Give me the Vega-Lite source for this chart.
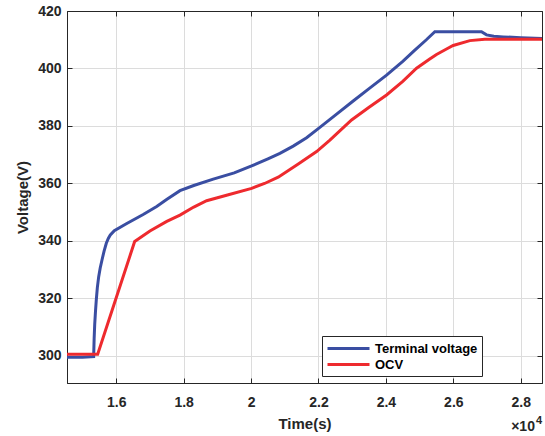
{
  "$schema": "https://vega.github.io/schema/vega-lite/v6.json",
  "width": 475,
  "height": 372,
  "autosize": {"type": "none"},
  "padding": {"left": 67, "top": 11, "right": 3, "bottom": 53},
  "background": "white",
  "config": {
    "font": "Liberation Sans",
    "view": {"stroke": "#262626", "strokeWidth": 1},
    "axis": {
      "domainColor": "#262626",
      "tickColor": "#262626",
      "tickSize": -5,
      "gridColor": "#dcdcdc",
      "gridWidth": 1,
      "labelFont": "Liberation Sans",
      "labelFontSize": 14,
      "labelFontWeight": "bold",
      "labelColor": "#262626",
      "titleFont": "Liberation Sans",
      "titleFontSize": 15,
      "titleFontWeight": "bold",
      "titleColor": "#262626"
    }
  },
  "datasets": {
    "curves": [
      {"t": 14540, "v": 299.6, "series": "Terminal voltage"},
      {"t": 15000, "v": 299.6, "series": "Terminal voltage"},
      {"t": 15331, "v": 299.8, "series": "Terminal voltage"},
      {"t": 15345, "v": 306.0, "series": "Terminal voltage"},
      {"t": 15362, "v": 311.0, "series": "Terminal voltage"},
      {"t": 15385, "v": 315.5, "series": "Terminal voltage"},
      {"t": 15409, "v": 319.5, "series": "Terminal voltage"},
      {"t": 15440, "v": 323.8, "series": "Terminal voltage"},
      {"t": 15480, "v": 327.6, "series": "Terminal voltage"},
      {"t": 15525, "v": 330.6, "series": "Terminal voltage"},
      {"t": 15578, "v": 333.4, "series": "Terminal voltage"},
      {"t": 15640, "v": 336.5, "series": "Terminal voltage"},
      {"t": 15706, "v": 339.2, "series": "Terminal voltage"},
      {"t": 15765, "v": 340.9, "series": "Terminal voltage"},
      {"t": 15825, "v": 342.1, "series": "Terminal voltage"},
      {"t": 15943, "v": 343.6, "series": "Terminal voltage"},
      {"t": 16300, "v": 346.0, "series": "Terminal voltage"},
      {"t": 16800, "v": 349.2, "series": "Terminal voltage"},
      {"t": 17200, "v": 352.0, "series": "Terminal voltage"},
      {"t": 17505, "v": 354.5, "series": "Terminal voltage"},
      {"t": 17891, "v": 357.5, "series": "Terminal voltage"},
      {"t": 18300, "v": 359.3, "series": "Terminal voltage"},
      {"t": 18878, "v": 361.5, "series": "Terminal voltage"},
      {"t": 19500, "v": 363.7, "series": "Terminal voltage"},
      {"t": 20016, "v": 366.1, "series": "Terminal voltage"},
      {"t": 20500, "v": 368.6, "series": "Terminal voltage"},
      {"t": 20855, "v": 370.5, "series": "Terminal voltage"},
      {"t": 21250, "v": 373.0, "series": "Terminal voltage"},
      {"t": 21647, "v": 375.9, "series": "Terminal voltage"},
      {"t": 22041, "v": 379.5, "series": "Terminal voltage"},
      {"t": 22500, "v": 383.8, "series": "Terminal voltage"},
      {"t": 23029, "v": 388.7, "series": "Terminal voltage"},
      {"t": 23500, "v": 393.0, "series": "Terminal voltage"},
      {"t": 24019, "v": 397.7, "series": "Terminal voltage"},
      {"t": 24500, "v": 402.5, "series": "Terminal voltage"},
      {"t": 24858, "v": 406.4, "series": "Terminal voltage"},
      {"t": 25200, "v": 410.0, "series": "Terminal voltage"},
      {"t": 25451, "v": 412.8, "series": "Terminal voltage"},
      {"t": 26000, "v": 412.8, "series": "Terminal voltage"},
      {"t": 26500, "v": 412.8, "series": "Terminal voltage"},
      {"t": 26835, "v": 412.8, "series": "Terminal voltage"},
      {"t": 26984, "v": 411.7, "series": "Terminal voltage"},
      {"t": 27200, "v": 411.2, "series": "Terminal voltage"},
      {"t": 27476, "v": 411.0, "series": "Terminal voltage"},
      {"t": 28000, "v": 410.7, "series": "Terminal voltage"},
      {"t": 28630, "v": 410.4, "series": "Terminal voltage"},
      {"t": 14540, "v": 300.6, "series": "OCV"},
      {"t": 15450, "v": 300.6, "series": "OCV"},
      {"t": 16547, "v": 339.8, "series": "OCV"},
      {"t": 17000, "v": 343.5, "series": "OCV"},
      {"t": 17500, "v": 346.8, "series": "OCV"},
      {"t": 17891, "v": 349.0, "series": "OCV"},
      {"t": 18300, "v": 351.8, "series": "OCV"},
      {"t": 18682, "v": 354.0, "series": "OCV"},
      {"t": 19300, "v": 356.0, "series": "OCV"},
      {"t": 20016, "v": 358.3, "series": "OCV"},
      {"t": 20400, "v": 360.0, "series": "OCV"},
      {"t": 20805, "v": 362.2, "series": "OCV"},
      {"t": 21400, "v": 366.8, "series": "OCV"},
      {"t": 21944, "v": 371.1, "series": "OCV"},
      {"t": 22338, "v": 375.1, "series": "OCV"},
      {"t": 22981, "v": 382.1, "series": "OCV"},
      {"t": 23500, "v": 386.5, "series": "OCV"},
      {"t": 24019, "v": 390.8, "series": "OCV"},
      {"t": 24500, "v": 395.5, "series": "OCV"},
      {"t": 24909, "v": 400.1, "series": "OCV"},
      {"t": 25300, "v": 403.3, "series": "OCV"},
      {"t": 25501, "v": 404.9, "series": "OCV"},
      {"t": 25798, "v": 406.8, "series": "OCV"},
      {"t": 25995, "v": 408.0, "series": "OCV"},
      {"t": 26489, "v": 409.7, "series": "OCV"},
      {"t": 26934, "v": 410.2, "series": "OCV"},
      {"t": 28630, "v": 410.2, "series": "OCV"}
    ],
    "base": [{"t": 28420, "v": 275.4, "label": "×10"}],
    "expo": [{"t": 28630, "v": 275.4, "label": "4"}]
  },
  "layer": [
    {
      "data": {"name": "curves"},
      "mark": {"type": "line", "strokeWidth": 3, "clip": true},
      "encoding": {
        "x": {
          "field": "t", "type": "quantitative",
          "scale": {"domain": [14540, 28630], "nice": false, "zero": false},
          "axis": {
            "title": "Time(s)",
            "values": [16000, 18000, 20000, 22000, 24000, 26000, 28000],
            "labelExpr": "format(datum.value / 10000, '.1~f')",
            "labelPadding": 17,
            "titlePadding": 7
          }
        },
        "y": {
          "field": "v", "type": "quantitative",
          "scale": {"domain": [290.6, 420], "nice": false, "zero": false},
          "axis": {
            "title": "Voltage(V)",
            "values": [300, 320, 340, 360, 380, 400, 420],
            "labelPadding": 11,
            "titlePadding": 7
          }
        },
        "color": {
          "field": "series", "type": "nominal",
          "scale": {"domain": ["Terminal voltage", "OCV"], "range": ["#3a4ea2", "#ee2a2e"]},
          "legend": {
            "title": null,
            "orient": "none",
            "legendX": 255,
            "legendY": 325,
            "symbolType": "M-1,0H5",
            "symbolStrokeWidth": 3,
            "symbolSize": 196,
            "symbolFillColor": "transparent",
            "labelOffset": 32,
            "labelFontSize": 13,
            "labelFontWeight": "bold",
            "labelColor": "#000000",
            "fillColor": "white",
            "strokeColor": "#262626",
            "padding": 4,
            "rowPadding": 0
          }
        }
      }
    },
    {
      "data": {"name": "curves"},
      "mark": {"type": "line", "opacity": 0},
      "encoding": {
        "x": {
          "field": "t", "type": "quantitative",
          "scale": {"domain": [14540, 28630], "nice": false, "zero": false},
          "axis": {"orient": "top", "values": [16000, 18000, 20000, 22000, 24000, 26000, 28000], "labels": false, "grid": false, "title": null}
        },
        "y": {
          "field": "v", "type": "quantitative",
          "scale": {"domain": [290.6, 420], "nice": false, "zero": false},
          "axis": {"orient": "right", "values": [300, 320, 340, 360, 380, 400, 420], "labels": false, "grid": false, "title": null}
        }
      }
    },
    {
      "data": {"name": "base"},
      "mark": {"type": "text", "align": "right", "baseline": "middle", "fontSize": 14, "fontWeight": "bold", "color": "#262626"},
      "encoding": {
        "x": {"field": "t", "type": "quantitative", "scale": {"domain": [14540, 28630], "nice": false, "zero": false}, "axis": null},
        "y": {"field": "v", "type": "quantitative", "scale": {"domain": [290.6, 420], "nice": false, "zero": false}, "axis": null},
        "text": {"field": "label"}
      }
    },
    {
      "data": {"name": "expo"},
      "mark": {"type": "text", "align": "right", "baseline": "middle", "fontSize": 11, "fontWeight": "bold", "color": "#262626", "dy": -6},
      "encoding": {
        "x": {"field": "t", "type": "quantitative", "scale": {"domain": [14540, 28630], "nice": false, "zero": false}, "axis": null},
        "y": {"field": "v", "type": "quantitative", "scale": {"domain": [290.6, 420], "nice": false, "zero": false}, "axis": null},
        "text": {"field": "label"}
      }
    }
  ],
  "resolve": {"axis": {"x": "independent", "y": "independent"}}
}
